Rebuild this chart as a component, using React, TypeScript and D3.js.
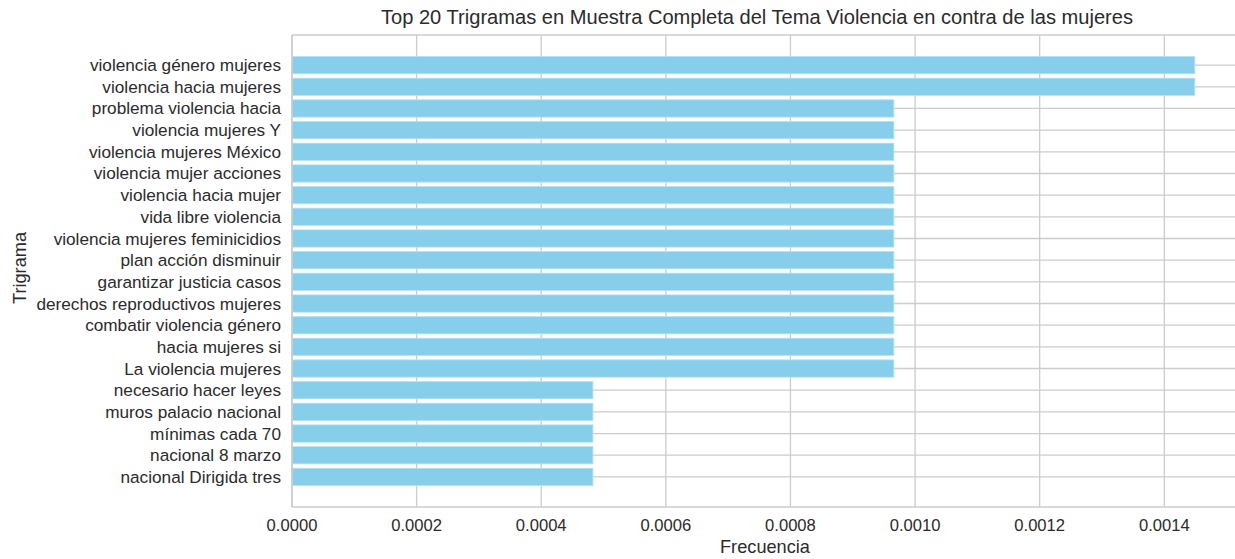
import React from "react";
import * as d3 from "d3";

const trigrams: string[] = [
  "violencia género mujeres",
  "violencia hacia mujeres",
  "problema violencia hacia",
  "violencia mujeres Y",
  "violencia mujeres México",
  "violencia mujer acciones",
  "violencia hacia mujer",
  "vida libre violencia",
  "violencia mujeres feminicidios",
  "plan acción disminuir",
  "garantizar justicia casos",
  "derechos reproductivos mujeres",
  "combatir violencia género",
  "hacia mujeres si",
  "La violencia mujeres",
  "necesario hacer leyes",
  "muros palacio nacional",
  "mínimas cada 70",
  "nacional 8 marzo",
  "nacional Dirigida tres",
];

const frequencies: number[] = [
  0.001449, 0.001449, 0.000966, 0.000966, 0.000966, 0.000966, 0.000966,
  0.000966, 0.000966, 0.000966, 0.000966, 0.000966, 0.000966, 0.000966,
  0.000966, 0.000483, 0.000483, 0.000483, 0.000483, 0.000483,
];

const xTicks: number[] = [0, 0.0002, 0.0004, 0.0006, 0.0008, 0.001, 0.0012, 0.0014];

const TITLE = "Top 20 Trigramas en Muestra Completa del Tema Violencia en contra de las mujeres";
const XLABEL = "Frecuencia";
const YLABEL = "Trigrama";

export default function App() {
  const W = 1235;
  const H = 559;
  const left = 292;
  const right = 1240;
  const top = 35;
  const bottom = 507;
  const font = "'Liberation Sans', Arial, sans-serif";
  const textColor = "#2b2b2b";
  const gridColor = "#cccccc";

  const x = d3.scaleLinear().domain([0, 0.0015215]).range([left, right]);
  const n = trigrams.length;
  const y = d3.scaleLinear().domain([-1.39, n - 1 + 1.39]).range([top, bottom]);
  const unit = Math.abs(y(1) - y(0));
  const barH = unit * 0.8;

  return (
    <svg
      width={W}
      height={H}
      style={{ position: "absolute", left: 0, top: 0, background: "#fff" }}
      fontFamily={font}
    >
      {xTicks.map((t) => (
        <line key={"vg" + t} x1={x(t)} x2={x(t)} y1={top} y2={bottom} stroke={gridColor} strokeWidth={1.3} />
      ))}
      {trigrams.map((c, i) => (
        <line key={"hg" + i} x1={left} x2={right} y1={y(i)} y2={y(i)} stroke={gridColor} strokeWidth={1.3} />
      ))}
      {trigrams.map((c, i) => (
        <rect
          key={"b" + i}
          x={x(0)}
          y={y(i) - barH / 2}
          width={x(frequencies[i]) - x(0)}
          height={barH}
          fill="#87CEEB"
          stroke="#b8e2f3"
          strokeWidth={0.8}
        />
      ))}
      <line x1={left} x2={right} y1={top} y2={top} stroke={gridColor} strokeWidth={1.6} />
      <line x1={left} x2={right} y1={bottom} y2={bottom} stroke={gridColor} strokeWidth={1.6} />
      <line x1={left} x2={left} y1={top} y2={bottom} stroke={gridColor} strokeWidth={1.6} />
      {trigrams.map((c, i) => (
        <text
          key={"yl" + i}
          x={left - 11}
          y={y(i)}
          dy="0.35em"
          textAnchor="end"
          fontSize={17.2}
          fill={textColor}
        >
          {c}
        </text>
      ))}
      {xTicks.map((t) => (
        <text
          key={"xl" + t}
          x={x(t)}
          y={bottom + 18}
          dy="0.35em"
          textAnchor="middle"
          fontSize={16.6}
          fill={textColor}
        >
          {d3.format(".4f")(t)}
        </text>
      ))}
      <text x={765} y={547} dy="0.35em" textAnchor="middle" fontSize={18.2} fill={textColor}>
        {XLABEL}
      </text>
      <text
        transform={`translate(20, 268) rotate(-90)`}
        textAnchor="middle"
        dy="0.35em"
        fontSize={18.2}
        fill={textColor}
      >
        {YLABEL}
      </text>
      <text x={757} y={17} dy="0.35em" textAnchor="middle" fontSize={20.1} fill={textColor}>
        {TITLE}
      </text>
    </svg>
  );
}
